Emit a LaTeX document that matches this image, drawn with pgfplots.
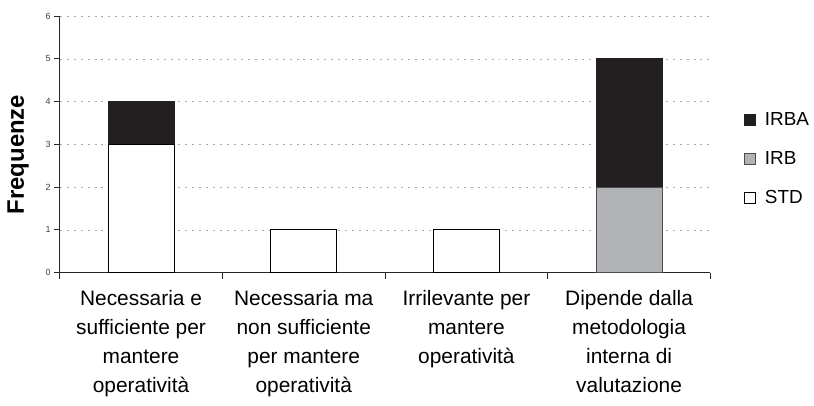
\documentclass[border=0pt]{standalone}
\usepackage{pgfplots}
\pgfplotsset{compat=1.18}
\usepackage{fontspec}
\setmainfont{Liberation Sans}
\definecolor{barblack}{HTML}{231F20}
\definecolor{bargray}{HTML}{B2B3B7}
\pgfplotsset{sqlegend/.style={legend image code/.code={\draw[##1] (0pt,-5.5pt) rectangle (11pt,5.5pt);}}}
\begin{document}
\begin{tikzpicture}
\path (-60pt,-134pt) rectangle (754pt,274pt);
\begin{axis}[
  scale only axis,
  width=654pt, height=258pt,
  ybar stacked,
  bar width=0.404,
  xmin=-0.5, xmax=3.5,
  ymin=0, ymax=6,
  ytick={0,1,2,3,4,5,6},
  xtick={0,1,2,3},
  xticklabels={{Necessaria e\\sufficiente per\\mantere\\operatività},
               {Necessaria ma\\non sufficiente\\per mantere\\operatività},
               {Irrilevante per\\mantere\\operatività},
               {Dipende dalla\\metodologia\\interna di\\valutazione}},
  xticklabel style={align=center, font=\fontsize{21}{29.3}\selectfont, yshift=-8.5pt},
  minor xtick={-0.5,0.5,1.5,2.5,3.5},
  yticklabel style={font=\fontsize{9}{9}\selectfont, text=black!75},
  /pgf/number format/assume math mode=true,
  axis y line*=left,
  axis x line*=bottom,
  tick align=outside,
  major tick length=5.5pt,
  minor tick length=6pt,
  xtick style={draw=none},
  ytick style={draw=black!85, line width=0.8pt},
  minor x tick style={draw=black!85, line width=0.8pt},
  axis line style={black!85, line width=0.9pt},
  ymajorgrids,
  grid style={black!35, dash pattern=on 2pt off 5pt},
  ylabel={Frequenze},
  ylabel style={font=\fontsize{24}{26}\selectfont\bfseries, at={(axis description cs:-0.064,0.46)}, anchor=center},
  reverse legend,
  legend style={draw=none, fill=none, at={(axis description cs:1.047,0.442)}, anchor=west,
    font=\fontsize{19}{21}\selectfont, row sep=20.5pt, /tikz/every odd column/.append style={column sep=7pt}},
  legend cell align=left,
]
\addplot+[fill=white, draw=black, line width=0.8pt, sqlegend]
  coordinates {(0,3) (1,1) (2,1) (3,0)};
\addlegendentry{STD}
\addplot+[fill=bargray, draw=black!70, line width=0.8pt, sqlegend]
  coordinates {(0,0) (1,0) (2,0) (3,2)};
\addlegendentry{IRB}
\addplot+[fill=barblack, draw=barblack, line width=0.8pt, sqlegend]
  coordinates {(0,1) (1,0) (2,0) (3,3)};
\addlegendentry{IRBA}
\end{axis}
\end{tikzpicture}
\end{document}
